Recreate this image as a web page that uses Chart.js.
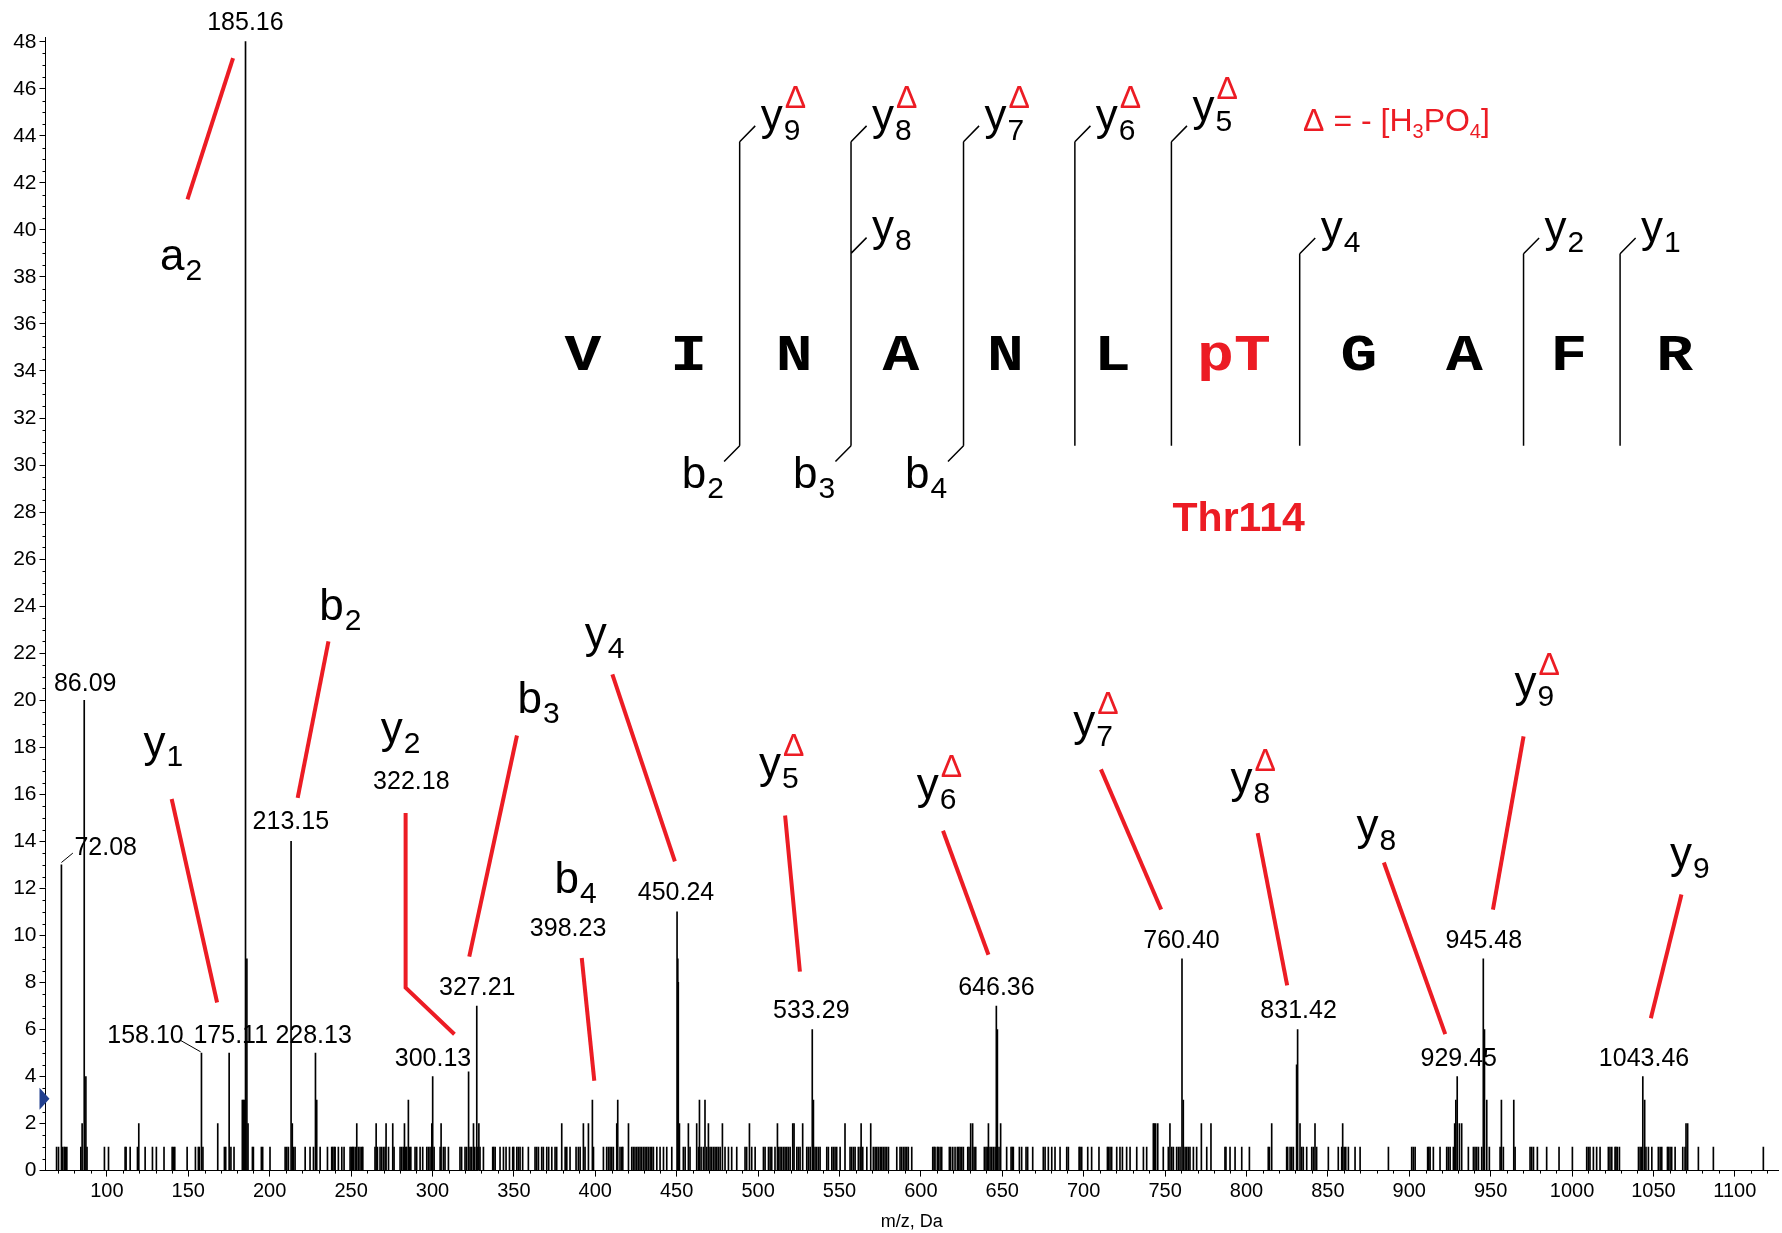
<!DOCTYPE html>
<html><head><meta charset="utf-8">
<script src="https://cdn.jsdelivr.net/npm/chart.js@4.4.1/dist/chart.umd.min.js"></script>
<style>html,body{margin:0;padding:0;background:#fff;overflow:hidden}canvas{display:block}</style>
</head><body>
<canvas id="c" width="1782" height="1233"></canvas>
<script>
// ---------- DATA ----------
const peakMz = [
69.1,70.3,72.08,72.8,73.8,74.4,75.4,84.0,84.8,86.09,87.1,87.8,98.5,101.0,111.2,111.8,114.3,118.8,119.6,123.5,
128.0,130.4,135.1,140.1,140.9,141.7,149.3,154.4,156.2,156.8,158.10,159.0,168.1,172.2,173.0,175.11,176.2,178.1,183.2,183.8,
184.4,185.16,186.0,186.7,189.4,190.0,194.9,195.7,200.2,209.5,210.5,211.5,213.15,213.9,214.6,215.6,221.8,224.8,226.9,228.13,
228.9,231.0,235.5,238.1,238.7,239.6,240.2,242.2,244.3,245.7,249.4,250.2,251.0,251.4,252.5,253.5,254.5,255.5,256.6,257.2,
264.7,265.4,266.2,267.8,268.8,269.9,270.9,271.5,273.0,275.6,276.4,280.1,281.1,282.1,282.8,283.6,284.2,285.2,285.8,286.7,
289.3,290.3,292.4,294.0,296.5,297.5,298.5,299.6,300.13,301.0,304.7,305.3,306.7,307.7,309.8,316.9,317.9,320.0,321.0,322.18,
323.1,324.1,325.2,326.0,327.21,327.9,328.5,329.2,331.3,337.0,337.6,338.5,341.5,343.6,345.2,347.3,349.3,349.9,351.8,352.8,
353.8,355.4,358.9,363.0,364.0,365.1,367.1,368.1,370.2,371.4,373.3,375.3,376.3,379.4,381.5,382.5,384.5,388.2,389.6,390.7,
392.7,393.7,395.8,398.23,398.9,405.0,407.0,408.1,409.1,410.1,411.1,413.2,413.8,415.2,416.3,416.9,420.4,422.4,423.4,424.4,
425.5,426.5,427.5,428.5,429.6,430.6,431.6,432.6,433.7,434.7,435.7,437.8,439.8,441.9,443.9,447.0,450.24,450.7,451.0,451.7,
454.1,455.2,457.2,458.2,462.3,463.4,464.0,465.0,466.4,467.4,468.5,469.5,470.5,471.5,472.6,473.6,474.6,475.6,476.7,478.1,
479.7,481.8,483.8,486.9,492.0,493.0,494.7,496.1,498.2,503.3,504.3,506.4,507.4,508.4,510.4,511.9,512.5,513.5,514.5,515.6,
516.6,517.6,518.6,519.7,521.3,522.1,523.8,524.8,525.8,527.4,529.9,530.9,532.0,533.29,534.0,535.0,536.0,537.1,538.1,542.2,
543.2,545.3,546.3,547.3,548.3,550.4,553.4,556.5,557.5,558.6,559.6,561.6,562.7,563.3,564.3,566.8,569.2,570.8,571.9,572.9,
573.9,575.0,576.0,577.0,578.0,579.0,580.1,585.2,587.2,588.2,589.3,590.3,591.3,592.3,594.4,607.3,608.1,608.7,610.1,610.7,
611.8,612.8,617.5,618.3,619.6,621.0,622.4,623.2,624.1,625.1,626.1,628.8,629.6,630.6,631.8,632.7,633.7,639.0,640.0,640.8,
641.5,642.5,643.5,644.5,645.6,646.36,647.0,648.0,649.0,652.7,655.4,656.2,656.8,660.5,661.9,664.6,665.6,668.7,675.2,676.3,
678.3,680.4,682.4,685.5,689.6,690.6,697.2,697.8,698.8,702.5,704.9,709.4,714.6,715.2,716.2,717.2,720.3,722.3,723.8,726.4,
728.5,732.6,736.7,738.7,742.8,743.4,744.2,745.5,748.9,752.0,753.0,754.1,755.1,757.1,758.2,759.2,760.40,761.2,762.3,763.3,
764.3,765.3,767.4,769.4,772.3,775.6,778.2,786.8,787.4,789.9,793.0,797.1,801.8,813.4,814.1,815.5,824.7,825.3,826.8,827.8,
828.8,830.8,831.42,832.9,833.9,834.9,837.0,840.1,841.1,842.1,843.1,850.3,856.4,858.5,859.1,860.0,861.0,862.6,866.7,869.8,
887.2,901.5,902.5,903.6,911.3,912.0,912.8,914.8,918.9,923.0,924.0,925.1,927.1,927.9,928.6,929.45,930.8,932.2,936.3,939.4,
940.4,941.4,942.5,944.5,945.48,946.2,947.6,949.2,955.8,956.6,957.8,964.2,965.0,974.2,975.2,976.3,978.7,984.4,992.0,1000.2,
1009.0,1010.0,1011.0,1013.1,1015.1,1017.2,1022.3,1023.3,1024.4,1026.4,1027.0,1027.8,1029.1,1040.8,1041.8,1042.8,1043.46,1044.6,1045.4,1046.9,
1049.0,1053.0,1054.1,1055.1,1058.6,1059.2,1060.2,1061.2,1063.3,1068.0,1069.4,1070.0,1071.0,1077.6,1086.8,1117.5
];
const peakIntensity = [
1,1,13,1,1,1,1,1,2,20,4,1,1,1,1,1,1,1,2,1,
1,1,1,1,1,1,1,1,1,1,5,1,2,1,1,5,1,1,3,3,
3,48,9,2,1,1,1,1,1,1,1,1,14,2,1,1,1,1,1,5,
3,1,1,1,1,1,1,1,1,1,1,1,1,1,1,2,1,1,1,1,
1,2,1,1,1,1,1,2,1,2,1,1,1,1,2,1,1,3,1,1,
1,1,1,1,1,1,1,2,4,1,1,2,1,1,1,1,1,1,1,4.2,
1,1,2,1,7,1,2,1,1,1,1,1,1,1,1,1,1,1,1,1,
1,1,1,1,1,1,1,1,1,1,1,1,1,2,1,1,1,1,1,1,
2,1,2,3,1,1,1,1,1,1,1,2,3,1,1,1,2,1,1,1,
1,1,1,1,1,1,1,1,1,1,1,1,1,1,1,1,11,9,8,2,
1,1,2,1,2,1,3,1,1,3,1,2,1,1,1,1,1,1,1,2,
1,1,1,1,1,1,2,1,1,1,1,1,1,1,1,2,1,1,1,1,
1,1,1,1,2,2,1,1,1,2,1,1,1,6,3,1,1,1,1,1,
1,1,1,1,1,1,2,1,1,1,1,1,1,2,1,1,2,1,1,1,
1,1,1,1,1,1,1,1,1,1,1,1,1,1,1,1,1,1,1,1,
1,1,1,1,1,1,1,1,1,1,1,1,1,2,2,1,1,1,1,1,
2,1,1,1,1,7,6,1,2,1,1,1,1,1,1,1,1,1,1,1,
1,1,1,1,1,1,1,1,1,1,1,1,1,1,1,1,1,1,1,1,
1,1,1,1,2,2,2,2,1,1,2,1,1,1,1,1,9,3,1,1,
1,1,1,1,2,1,2,1,1,1,1,1,1,1,1,2,1,1,1,1,
1,4.5,6,2,1,1,1,1,1,2,1,1,1,1,2,1,1,1,1,1,
1,1,1,1,1,1,1,1,1,1,1,1,1,2,3,4,2,2,1,1,
1,1,1,1,9,6,3,1,1,3,1,3,1,1,1,1,1,1,1,1,
1,1,1,1,1,1,1,1,1,1,1,1,1,1,1,1,4,3,1,1,
1,1,1,1,1,1,1,1,1,1,1,2,2,1,1,1
];
const xTickValues = [100,150,200,250,300,350,400,450,500,550,600,650,700,750,800,850,900,950,1000,1050,1100];
const yTickValues = [0,2,4,6,8,10,12,14,16,18,20,22,24,26,28,30,32,34,36,38,40,42,44,46,48];
const peakLabelText = ['185.16','86.09','72.08','213.15','158.10','175.11','228.13','322.18','300.13','327.21','398.23','450.24','533.29','646.36','760.40','831.42','929.45','945.48','1043.46'];
const ionName = ['a','y','b','y','b','y','b','y','y','y','y','y','y','y'];
const ionIndex = ['2','1','2','2','3','4','4','5','6','7','8','8','9','9'];
const ionLoss = [false,false,false,false,false,false,false,true,true,true,true,false,true,false];
const sequence = ['V','I','N','A','N','L','pT','G','A','F','R'];
const fragTopName = ['y','y','y','y','y','y','y','y','y'];
const fragTopIndex = ['9','8','7','6','5','8','4','2','1'];
const fragTopLoss = [true,true,true,true,true,false,false,false,false];
const fragBottomIndex = ['2','3','4'];

// ---------- LAYOUT (annotation positions in data coordinates: [m/z, intensity]) ----------
const peakLabelPos = [[185.1,48.8],[86.7,20.7],[99.3,13.7],[213.0,14.8],[123.7,5.7],[176.1,5.7],[227.0,5.7],[287.0,16.5],[300.3,4.74],[327.5,7.78],[383.3,10.25],[449.6,11.8],[532.7,6.8],[646.4,7.78],[760.1,9.76],[832.0,6.8],[930.4,4.74],[945.8,9.76],[1044.2,4.74]];
const leaderLines = [[[72.08,13.1],[79.1,13.5]],[[144.9,5.55],[157.6,5.05]]];
const ionPos = [[132.7,38.3],[122.5,17.6],[230.5,23.4],[268.2,18.17],[352.3,19.45],[393.5,22.2],[375.0,11.8],[500.6,16.7],[597.5,15.8],[693.6,18.46],[790.2,16.05],[867.6,14.06],[964.6,20.15],[1060.2,12.86]];
const redLines = [
 [[149.5,41.3],[177.5,47.3]],
 [[139.8,15.8],[167.7,7.15]],
 [[217.2,15.85],[236.1,22.5]],
 [[283.5,15.2],[283.5,7.78],[313.5,5.8]],
 [[322.6,9.1],[351.9,18.5]],
 [[391.7,9.04],[399.4,3.82]],
 [[410.5,21.1],[448.9,13.15]],
 [[516.6,15.1],[525.7,8.46]],
 [[613.6,14.45],[641.5,9.18]],
 [[710.6,17.06],[747.6,11.1]],
 [[806.9,14.35],[825.0,7.88]],
 [[884.4,13.1],[922.1,5.8]],
 [[970.2,18.46],[951.4,11.1]],
 [[1067.2,11.74],[1048.4,6.48]]
];
const seqMz = [392.4,457.3,522.2,587.8,652.0,717.6,792.3,869.0,933.9,998.1,1063.0];
const seqBaseline = 34.02;
const cutMz = [488.7,557.1,626.2,694.6,753.9,832.7,970.2,1029.5];
const cutTop = [43.75,43.75,43.75,43.75,43.75,38.98,38.98,38.98];
const cutBottom = 30.82;
const topHook = [[488.7,43.75],[557.1,43.75],[626.2,43.75],[694.6,43.75],[753.9,43.75],[557.1,39.0],[832.7,38.98],[970.2,38.98],[1029.5,38.98]];
const topLabelPos = [[501.6,44.25],[570.0,44.25],[639.1,44.25],[707.5,44.25],[766.8,44.61],[570.0,39.54],[845.6,39.49],[983.1,39.49],[1042.4,39.49]];
const bottomHook = [[488.7,30.82],[557.1,30.82],[626.2,30.82]];
const bottomLabelPos = [[453.1,29.02],[521.5,29.02],[590.2,29.02]];
const hookDx = 9.56, hookDy = 0.67;

const RED = '#ec1c24';
const SANS = '"Liberation Sans", Arial, Helvetica, sans-serif';

function drawIon(ctx, name, idx, loss, x, y, fs) {
  ctx.textAlign = 'left'; ctx.textBaseline = 'alphabetic';
  ctx.fillStyle = '#000';
  ctx.font = fs + 'px ' + SANS;
  ctx.fillText(name, x, y);
  const w = ctx.measureText(name).width;
  ctx.font = Math.round(fs * 0.68) + 'px ' + SANS;
  ctx.fillText(idx, x + w + 1, y + fs * 0.22);
  if (loss) {
    ctx.fillStyle = RED;
    ctx.font = Math.round(fs * 0.72) + 'px ' + SANS;
    ctx.fillText('\u0394', x + w + 2, y - fs * 0.5);
  }
}

const annot = {
  id: 'annot',
  afterDraw(chart) {
    const ctx = chart.ctx, xs = chart.scales.x, ys = chart.scales.y;
    const X = v => xs.getPixelForValue(v), Y = v => ys.getPixelForValue(v);
    const ca = chart.chartArea;
    ctx.save();
    // minor ticks
    ctx.strokeStyle = '#000'; ctx.lineWidth = 1;
    ctx.beginPath();
    for (let m = 70; m <= 1120; m += 10) {
      if (m % 50 === 0) continue;
      const px = Math.round(X(m)) + 0.5;
      ctx.moveTo(px, ca.bottom); ctx.lineTo(px, ca.bottom + 3);
    }
    for (let v = 0.5; v < 48.2; v += 0.5) {
      if (Math.abs(v % 2) < 1e-6) continue;
      const py = Math.round(Y(v)) + 0.5;
      ctx.moveTo(ca.left - 3, py); ctx.lineTo(ca.left, py);
    }
    ctx.stroke();
    // blue marker
    ctx.fillStyle = '#22408f';
    const ty = Y(3.05);
    ctx.beginPath(); ctx.moveTo(ca.left - 6, ty - 11); ctx.lineTo(ca.left + 4, ty); ctx.lineTo(ca.left - 6, ty + 11); ctx.closePath(); ctx.fill();

    // peak value labels
    ctx.fillStyle = '#000';
    ctx.font = '25px ' + SANS;
    ctx.textAlign = 'center'; ctx.textBaseline = 'middle';
    peakLabelText.forEach((t, i) => ctx.fillText(t, X(peakLabelPos[i][0]), Y(peakLabelPos[i][1])));
    ctx.strokeStyle = '#000'; ctx.lineWidth = 1;
    leaderLines.forEach(l => { ctx.beginPath(); ctx.moveTo(X(l[0][0]), Y(l[0][1])); ctx.lineTo(X(l[1][0]), Y(l[1][1])); ctx.stroke(); });

    // red connector lines
    ctx.strokeStyle = RED; ctx.lineWidth = 4; ctx.lineJoin = 'miter';
    redLines.forEach(pts => {
      ctx.beginPath();
      pts.forEach((p, i) => i ? ctx.lineTo(X(p[0]), Y(p[1])) : ctx.moveTo(X(p[0]), Y(p[1])));
      ctx.stroke();
    });
    // ion labels in spectrum
    ionName.forEach((n, i) => drawIon(ctx, n, ionIndex[i], ionLoss[i], X(ionPos[i][0]), Y(ionPos[i][1]), 44));

    // peptide sequence (wide monospace look)
    ctx.textAlign = 'center'; ctx.textBaseline = 'alphabetic';
    ctx.font = 'bold 52px "Liberation Mono", "Courier New", monospace';
    sequence.forEach((s, i) => {
      ctx.save();
      ctx.translate(X(seqMz[i]), Y(seqBaseline));
      ctx.scale(1.18, 1);
      ctx.fillStyle = s === 'pT' ? RED : '#000';
      ctx.fillText(s, 0, 0);
      ctx.restore();
    });
    // cleavage lines
    ctx.strokeStyle = '#000'; ctx.lineWidth = 1.5;
    ctx.beginPath();
    cutMz.forEach((m, i) => { ctx.moveTo(X(m), Y(cutTop[i])); ctx.lineTo(X(m), Y(cutBottom)); });
    topHook.forEach(h => { ctx.moveTo(X(h[0]), Y(h[1])); ctx.lineTo(X(h[0] + hookDx), Y(h[1] + hookDy)); });
    bottomHook.forEach(h => { ctx.moveTo(X(h[0]), Y(h[1])); ctx.lineTo(X(h[0] - hookDx), Y(h[1] - hookDy)); });
    ctx.stroke();
    fragTopName.forEach((n, i) => drawIon(ctx, n, fragTopIndex[i], fragTopLoss[i], X(topLabelPos[i][0]), Y(topLabelPos[i][1]), 44));
    fragBottomIndex.forEach((d, i) => drawIon(ctx, 'b', d, false, X(bottomLabelPos[i][0]), Y(bottomLabelPos[i][1]), 44));

    // legend for delta
    let lx = X(834.8); const ly = Y(44.2);
    ctx.fillStyle = RED; ctx.textAlign = 'left'; ctx.textBaseline = 'alphabetic';
    const parts = [['\u0394 = - [H', 0], ['3', 1], ['PO', 0], ['4', 1], [']', 0]];
    parts.forEach(([t, sub]) => {
      ctx.font = (sub ? 20 : 32) + 'px ' + SANS;
      ctx.fillText(t, lx, ly + (sub ? 7 : 0));
      lx += ctx.measureText(t).width;
    });
    // site label
    ctx.font = 'bold 41px ' + SANS;
    ctx.fillText('Thr114', X(754.6), Y(27.2));
    ctx.restore();
  }
};

new Chart(document.getElementById('c'), {
  type: 'bar',
  data: {
    datasets: [{
      data: peakMz.map((m, i) => ({ x: m, y: peakIntensity[i] })),
      backgroundColor: '#000',
      borderWidth: 0,
      barThickness: 1,
      grouped: false
    }]
  },
  options: {
    responsive: false,
    animation: false,
    devicePixelRatio: 1,
    layout: { padding: { top: 37, right: 4, left: 0, bottom: 0 } },
    plugins: { legend: { display: false }, tooltip: { enabled: false } },
    scales: {
      x: {
        type: 'linear', min: 62.3, max: 1126.5, offset: false,
        grid: { display: true, drawOnChartArea: false, drawTicks: true, tickLength: 6, color: '#000', offset: false },
        border: { display: true, color: '#000', width: 1 },
        afterBuildTicks: s => { s.ticks = xTickValues.map(v => ({ value: v })); },
        afterFit: s => { s.height = 62.4; },
        ticks: { autoSkip: false, maxRotation: 0, color: '#000', padding: 3, font: { family: SANS, size: 20 }, callback: v => String(v) },
        title: { display: true, text: 'm/z, Da', color: '#000', font: { family: SANS, size: 18 }, padding: { top: 0, bottom: 0 } }
      },
      y: {
        type: 'linear', min: 0, max: 48.2,
        grid: { display: true, drawOnChartArea: false, drawTicks: true, tickLength: 6, color: '#000' },
        border: { display: true, color: '#000', width: 1 },
        afterBuildTicks: s => { s.ticks = yTickValues.map(v => ({ value: v })); },
        afterFit: s => { s.width = 45.5; },
        ticks: { autoSkip: false, color: '#000', padding: 3, font: { family: SANS, size: 21 }, callback: v => String(v) }
      }
    }
  },
  plugins: [annot]
});
</script>
</body></html>
